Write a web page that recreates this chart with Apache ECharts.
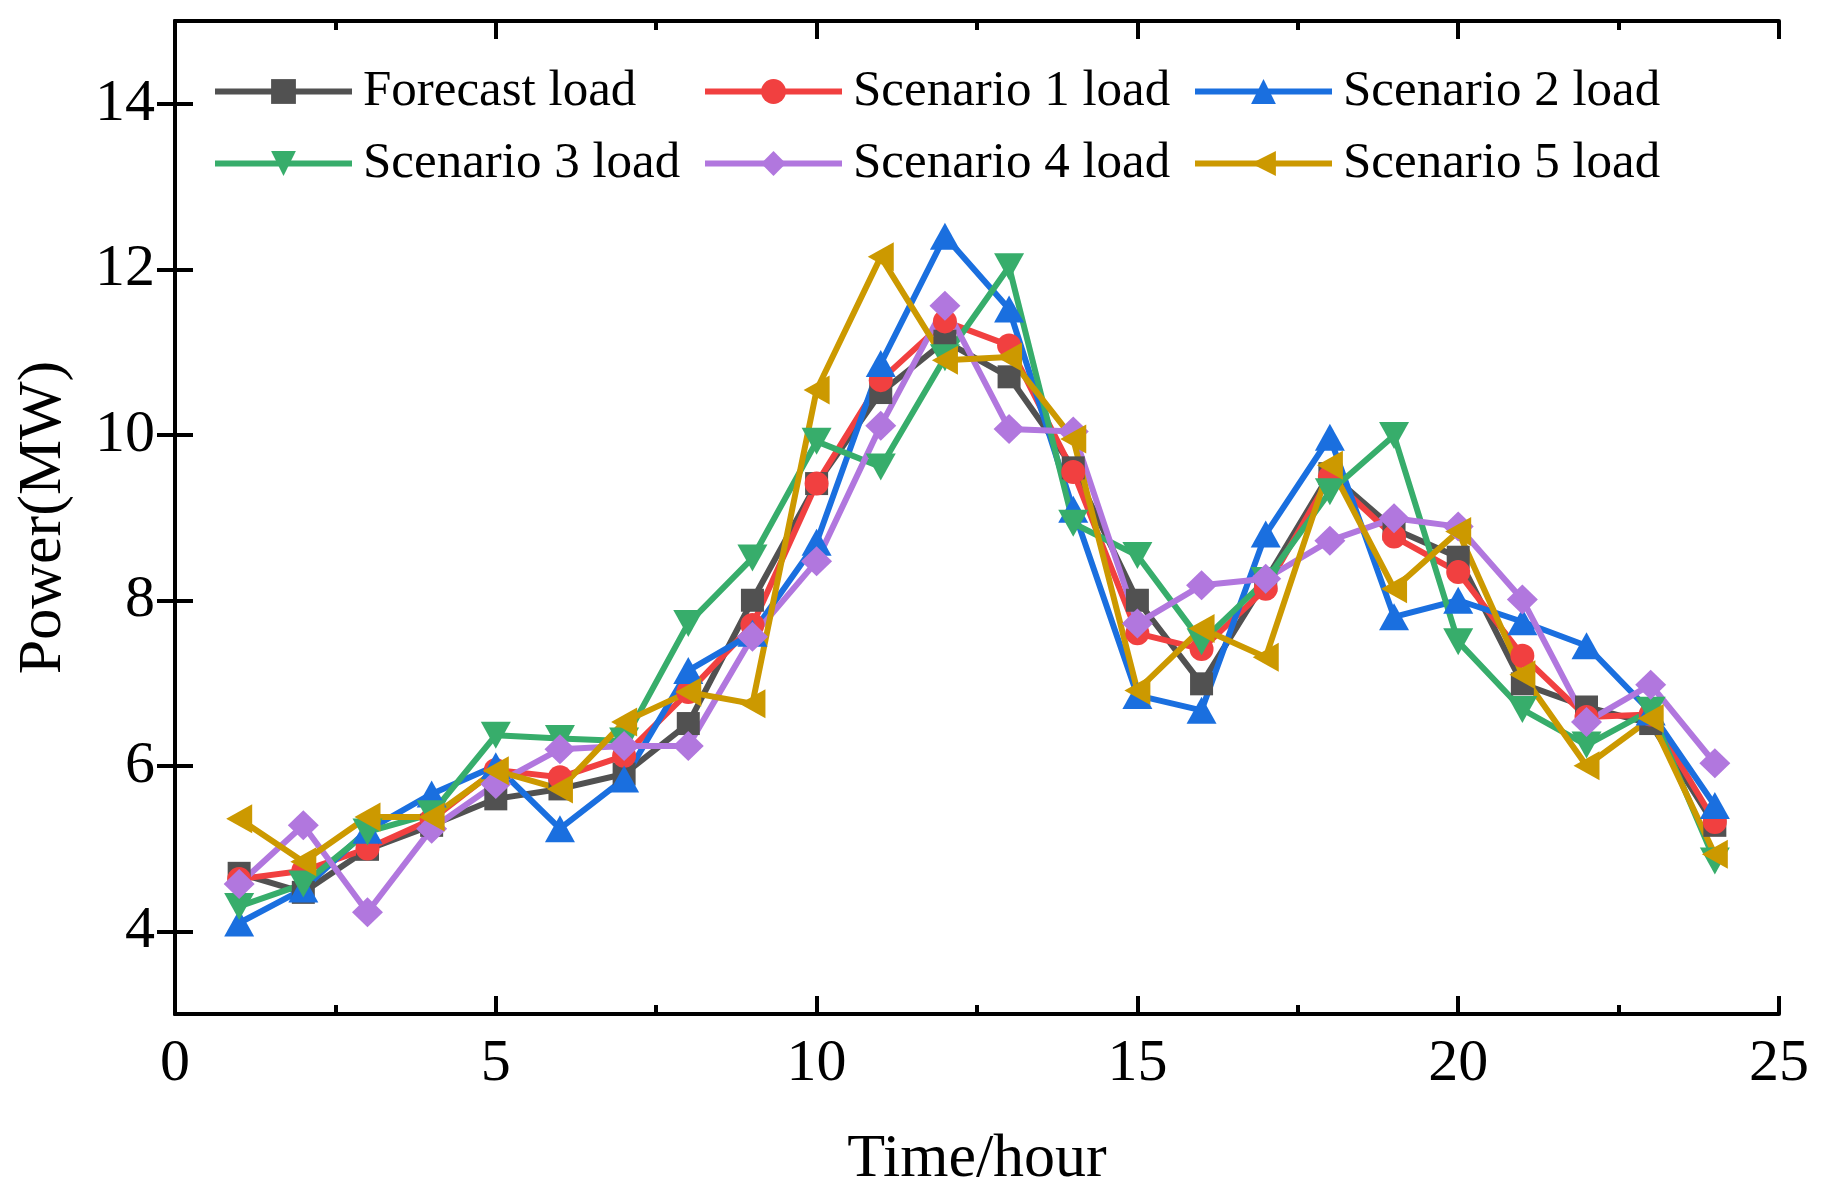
<!DOCTYPE html>
<html>
<head>
<meta charset="utf-8">
<script src="https://cdn.jsdelivr.net/npm/echarts@6/dist/echarts.min.js"></script>
<style>
  html, body { margin: 0; padding: 0; background: #fff; }
  #chart { width: 1830px; height: 1201px; }
</style>
</head>
<body>
<div id="chart"></div>
<script>
const hours = [1, 2, 3, 4, 5, 6, 7, 8, 9, 10, 11, 12, 13, 14, 15, 16, 17, 18, 19, 20, 21, 22, 23, 24];

const forecastLoad = [4.70, 4.47, 4.99, 5.28, 5.60, 5.72, 5.90, 6.51, 8.00, 9.41, 10.51, 11.13, 10.70, 9.60, 8.00, 6.99, 8.24, 9.53, 8.86, 8.52, 6.99, 6.71, 6.51, 5.28];
const scenario1 = [4.63, 4.73, 5.00, 5.35, 5.95, 5.86, 6.12, 6.89, 7.70, 9.41, 10.66, 11.37, 11.08, 9.55, 7.60, 7.41, 8.14, 9.49, 8.77, 8.34, 7.33, 6.59, 6.62, 5.32];
const scenario2 = [4.10, 4.51, 5.22, 5.66, 6.00, 5.24, 5.84, 7.15, 7.60, 8.70, 10.86, 12.40, 11.52, 9.10, 6.85, 6.67, 8.80, 9.97, 7.80, 8.00, 7.74, 7.45, 6.65, 5.52];
const scenario3 = [4.30, 4.57, 5.20, 5.42, 6.37, 6.33, 6.30, 7.72, 8.51, 9.92, 9.61, 10.93, 12.03, 8.93, 8.54, 7.50, 8.24, 9.31, 9.99, 7.50, 6.68, 6.25, 6.67, 4.85];
const scenario4 = [4.57, 5.28, 4.23, 5.24, 5.78, 6.20, 6.24, 6.24, 7.56, 8.47, 10.11, 11.56, 10.07, 10.04, 7.72, 8.18, 8.26, 8.72, 8.99, 8.89, 8.01, 6.53, 6.98, 6.03];
const scenario5 = [5.36, 4.84, 5.38, 5.38, 5.94, 5.72, 6.53, 6.89, 6.75, 10.54, 12.15, 10.90, 10.94, 9.95, 6.91, 7.66, 7.31, 9.63, 8.14, 8.83, 7.10, 6.00, 6.57, 4.93];

const seriesNames = ["Forecast load", "Scenario 1 load", "Scenario 2 load", "Scenario 3 load", "Scenario 4 load", "Scenario 5 load"];
const yTicks = [4, 6, 8, 10, 12, 14];

const FONT = "'Liberation Serif', 'Times New Roman', serif";

// colour / marker per series
const looks = [
  { color: "#515151", symbol: "rect", size: 23, rotate: 0 },
  { color: "#F14040", symbol: "circle", size: 24, rotate: 0 },
  { color: "#1A6FDF", symbol: "triangle", size: [30, 27], rotate: 0 },
  { color: "#37AD6B", symbol: "triangle", size: [30, 27], rotate: 180 },
  { color: "#B177DE", symbol: "diamond", size: [31, 30], rotate: 0 },
  { color: "#CC9900", symbol: "triangle", size: [29, 26], rotate: 90 },
];

const makeSeries = (name, values, look) => {
  return {
    name: name,
    type: "line",
    data: hours.map((h, i) => [h, values[i]]),
    symbol: look.symbol,
    symbolSize: look.size,
    symbolRotate: look.rotate,
    showAllSymbol: true,
    lineStyle: { width: 6, color: look.color },
    itemStyle: { color: look.color },
  };
};

const axisLineStyle = { show: true, lineStyle: { color: "#000", width: 4 } };
const tickStyle = { width: 4, color: "#000" };

const getOption = () => {
  const allValues = [forecastLoad, scenario1, scenario2, scenario3, scenario4, scenario5];
  return {
    animation: false,
    backgroundColor: "#fff",
    grid: { left: 175, right: 51, top: 21, bottom: 187, containLabel: false },
    legend: {
      data: seriesNames,
      left: 207,
      top: 61,
      width: 1500,
      itemWidth: 137,
      itemHeight: 31,
      itemGap: 21,
      lineStyle: { width: 6 },
      textStyle: {
        fontFamily: FONT,
        fontSize: 51,
        color: "#000",
        width: 318,
        lineHeight: 51,
        padding: [0, 0, 0, 6],
      },
    },
    xAxis: [
      {
        type: "value",
        min: 0,
        max: 25,
        interval: 5,
        name: "Time/hour",
        nameLocation: "middle",
        nameGap: 115,
        nameTextStyle: { fontFamily: FONT, fontSize: 62, color: "#000" },
        axisLine: axisLineStyle,
        axisTick: { show: true, inside: true, length: 18, lineStyle: tickStyle },
        minorTick: { show: true, splitNumber: 2, length: 9, lineStyle: tickStyle },
        axisLabel: { fontFamily: FONT, fontSize: 60, color: "#000", margin: 20 },
        splitLine: { show: false },
      },
      {
        type: "value",
        position: "top",
        min: 0,
        max: 25,
        interval: 5,
        axisLine: axisLineStyle,
        axisTick: { show: true, inside: true, length: 18, lineStyle: tickStyle },
        minorTick: { show: true, splitNumber: 2, length: 9, lineStyle: tickStyle },
        axisLabel: { show: false },
        splitLine: { show: false },
      },
    ],
    yAxis: [
      {
        type: "value",
        min: 3,
        max: 15,
        name: "Power(MW)",
        nameLocation: "middle",
        nameGap: 100,
        nameTextStyle: { fontFamily: FONT, fontSize: 62, color: "#000" },
        axisLine: axisLineStyle,
        axisTick: { show: true, inside: true, length: 18, customValues: yTicks, lineStyle: tickStyle },
        axisLabel: { fontFamily: FONT, fontSize: 60, color: "#000", margin: 20, customValues: yTicks },
        splitLine: { show: false },
      },
      {
        type: "value",
        position: "right",
        min: 3,
        max: 15,
        axisLine: axisLineStyle,
        axisTick: { show: true, inside: true, length: 18, customValues: yTicks, lineStyle: tickStyle },
        axisLabel: { show: false, customValues: yTicks },
        splitLine: { show: false },
      },
    ],
    series: seriesNames.map((name, i) => makeSeries(name, allValues[i], looks[i])),
  };
};

const initChart = () => {
  const chart = echarts.init(document.getElementById("chart"));
  chart.setOption(getOption());
};

window.addEventListener("load", () => {
  initChart();
});
</script>
</body>
</html>
